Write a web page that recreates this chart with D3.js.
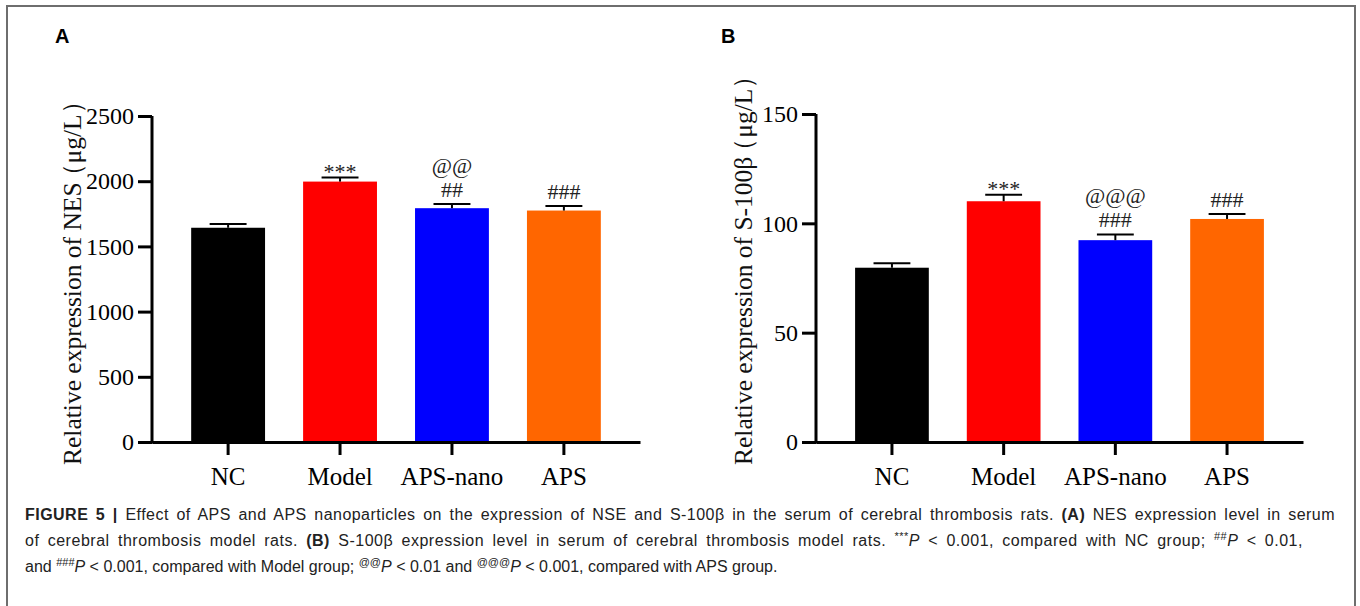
<!DOCTYPE html>
<html>
<head>
<meta charset="utf-8">
<script src="https://cdn.jsdelivr.net/npm/d3@7/dist/d3.min.js"></script>
<style>
  html, body { margin: 0; padding: 0; background: #fff; }
  svg { display: block; }
  .axis text { font-family: "Liberation Serif", "Times New Roman", serif; fill: #000; }
  .axis path, .axis line { stroke: #000; stroke-width: 3; }
</style>
</head>
<body>
<svg id="fig" width="1360" height="606"></svg>
<script>
// groups shared by both panels
const groups = ['NC', 'Model', 'APS-nano', 'APS'];
const barColors = ['#000000', '#ff0000', '#0000ff', '#ff6600'];

// panel A: NES (ug/L)
const nseMean = [1643, 1997, 1793, 1775];
const nseErr = [28, 31, 32, 34];
const nseTicks = [0, 500, 1000, 1500, 2000, 2500];
const nseMarks = [[], ['***'], ['@@', '##'], ['###']];

// panel B: S-100beta (ug/L)
const s100Mean = [79.7, 110.1, 92.3, 102.0];
const s100Err = [2.0, 3.0, 2.6, 2.3];
const s100Ticks = [0, 50, 100, 150];
const s100Marks = [[], ['***'], ['@@@', '###'], ['###']];

const svg = d3.select('#fig');

// outer frame
svg.append('rect')
  .attr('x', 7).attr('y', 6)
  .attr('width', 1348).attr('height', 620)
  .attr('fill', 'none')
  .attr('stroke', '#6e6e6e')
  .attr('stroke-width', 2);

function drawPanel(opts) {
  const { letter, letterX, x0, x1, yTop, yMax, ticks, means, errs, marks, labelMain, labelUnit, labelX } = opts;
  const yBase = 442;
  const g = svg.append('g');

  const x = d3.scaleBand()
    .domain(groups)
    .range([x0, x1])
    .paddingInner(0.34)
    .paddingOuter(0.35);
  const y = d3.scaleLinear().domain([0, yMax]).range([yBase, yTop]);

  // panel letter
  g.append('text')
    .attr('x', letterX).attr('y', 43)
    .attr('font-family', '"Liberation Sans", Arial, sans-serif')
    .attr('font-weight', 'bold')
    .attr('font-size', 20)
    .text(letter);

  // bars
  g.selectAll('.bar')
    .data(groups)
    .enter()
    .append('rect')
    .attr('class', 'bar')
    .attr('x', d => x(d))
    .attr('y', (d, i) => y(means[i]))
    .attr('width', x.bandwidth())
    .attr('height', (d, i) => yBase - y(means[i]))
    .attr('fill', (d, i) => barColors[i]);

  // error bars (upper only)
  const capW = x.bandwidth() / 2;
  groups.forEach((grp, i) => {
    const cx = x(grp) + x.bandwidth() / 2;
    const top = y(means[i] + errs[i]);
    g.append('line')
      .attr('x1', cx).attr('x2', cx)
      .attr('y1', y(means[i])).attr('y2', top)
      .attr('stroke', '#000').attr('stroke-width', 2);
    g.append('line')
      .attr('x1', cx - capW / 2).attr('x2', cx + capW / 2)
      .attr('y1', top).attr('y2', top)
      .attr('stroke', '#000').attr('stroke-width', 2);

    // significance marks, bottom line sits just above the cap
    const lines = marks[i];
    lines.forEach((txt, j) => {
      const fromBottom = lines.length - 1 - j;
      const shift = txt.includes('*') ? 1 : -7;
      g.append('text')
        .attr('x', cx)
        .attr('y', top + shift - fromBottom * 24.5)
        .attr('text-anchor', 'middle')
        .attr('font-family', '"Liberation Serif", "Times New Roman", serif')
        .attr('font-size', 22)
        .attr('fill', '#222')
        .text(txt);
    });
  });

  // axes
  g.append('g')
    .attr('class', 'axis')
    .attr('transform', `translate(${x0},0)`)
    .call(d3.axisLeft(y).tickValues(ticks).tickSize(14).tickSizeOuter(0).tickPadding(4).tickFormat(d3.format('d')))
    .call(a => a.selectAll('text').attr('font-size', 24))
    .call(a => a.select('.domain').attr('d', `M0,${yBase + 1.5}V${yTop}`));

  g.append('g')
    .attr('class', 'axis')
    .attr('transform', `translate(0,${yBase})`)
    .call(d3.axisBottom(x).tickSize(13).tickSizeOuter(0).tickPadding(12))
    .call(a => a.selectAll('text').attr('font-size', 25));

  // y label, read bottom to top starting at the bottom edge
  const lab = g.append('text')
    .attr('transform', `translate(${labelX},465) rotate(-90)`)
    .attr('text-anchor', 'start')
    .attr('font-family', '"Liberation Serif", "Times New Roman", serif')
    .attr('font-size', 25.5)
    .attr('fill', '#111');
  lab.append('tspan').text(labelMain);
  lab.append('tspan').attr('dx', -7).text('（');
  lab.append('tspan').text(labelUnit);
  lab.append('tspan').text('）');
}

drawPanel({
  letter: 'A', letterX: 55, x0: 152, x1: 640, yTop: 116, yMax: 2500,
  ticks: nseTicks, means: nseMean, errs: nseErr, marks: nseMarks,
  labelMain: 'Relative expression of NES', labelUnit: 'μg/L', labelX: 81
});

drawPanel({
  letter: 'B', letterX: 721, x0: 816, x1: 1303, yTop: 114, yMax: 150,
  ticks: s100Ticks, means: s100Mean, errs: s100Err, marks: s100Marks,
  labelMain: 'Relative expression of S-100β', labelUnit: 'μg/L', labelX: 752
});

// caption, each line a list of [text, style]; first two lines are justified
const captionLines = [
  [['FIGURE 5 | ', 'b'], ['Effect of APS and APS nanoparticles on the expression of NSE and S-100β in the serum of cerebral thrombosis rats. ', ''], ['(A)', 'b'], [' NES expression level in serum', '']],
  [['of cerebral thrombosis model rats. ', ''], ['(B)', 'b'], [' S-100β expression level in serum of cerebral thrombosis model rats. ', ''], ['***', 'sup'], ['P', 'i'], [' < 0.001, compared with NC group; ', ''], ['##', 'sup'], ['P', 'i'], [' < 0.01,', '']],
  [['and ', ''], ['###', 'sup'], ['P', 'i'], [' < 0.001, compared with Model group; ', ''], ['@@', 'sup'], ['P', 'i'], [' < 0.01 and ', ''], ['@@@', 'sup'], ['P', 'i'], [' < 0.001, compared with APS group.', '']]
];
const captionWidths = [1310, 1278, null];

const caption = svg.append('g')
  .attr('font-family', '"Liberation Sans", Arial, Helvetica, sans-serif')
  .attr('font-size', 16)
  .attr('fill', '#222');

captionLines.forEach((parts, li) => {
  const t = caption.append('text')
    .attr('x', 25)
    .attr('y', 520 + li * 26)
    .attr('xml:space', 'preserve');
  let raised = false;
  parts.forEach(([str, style]) => {
    const span = t.append('tspan').text(str);
    if (style === 'b') span.attr('font-weight', 'bold');
    if (style === 'i') span.attr('font-style', 'italic');
    if (style === 'sup') {
      span.attr('font-size', 11).attr('dy', -6);
      raised = true;
    } else if (raised) {
      span.attr('dy', 6);
      raised = false;
    }
  });

  // spread the slack over letters and word gaps so the line fills its width
  const target = captionWidths[li];
  if (target) {
    const natural = t.node().getComputedTextLength();
    const full = parts.map(p => p[0]).join('');
    const gaps = full.split(' ').length - 1;
    const extra = target - natural;
    t.attr('letter-spacing', (extra * 0.5) / full.length)
      .attr('word-spacing', (extra * 0.5) / gaps);
  }
});
</script>
</body>
</html>
